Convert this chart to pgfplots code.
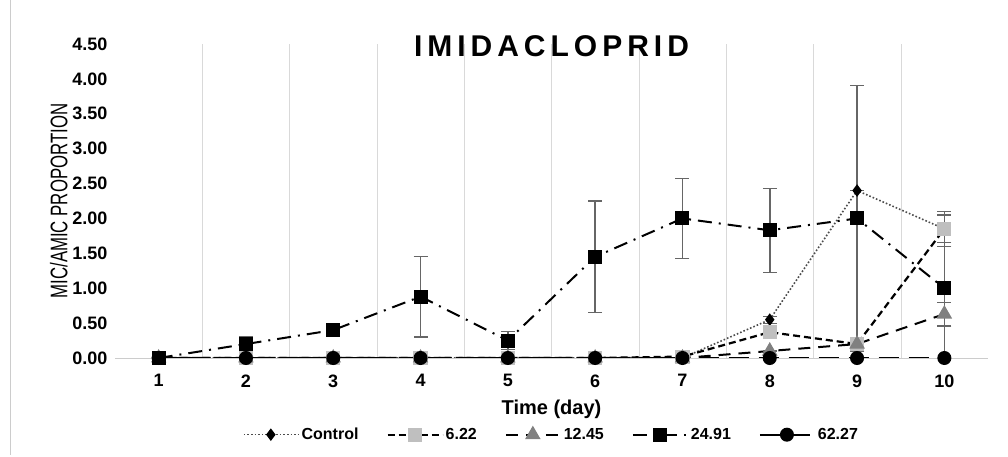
\documentclass[border=0pt]{standalone}
\usepackage{pgfplots}
\pgfplotsset{compat=1.18}
\usepackage{fontspec}
\setmainfont{Liberation Sans}
\begin{document}
\begin{tikzpicture}
\path[use as bounding box] (0pt,0pt) rectangle (1008pt,457pt);
\draw[gray!40] (10pt,2pt) -- (10pt,457pt);
\begin{axis}[at={(115pt,99pt)},anchor=south west,scale only axis,width=873pt,height=314pt,
 xmin=0.5,xmax=10.5,ymin=0,ymax=4.5,
 xtick={1,...,10}, minor xtick={1.5,2.5,...,9.5}, xminorgrids, minor grid style={gray!30},
 ytick={0,0.5,...,4.5},
 yticklabel style={xshift=-4pt,/pgf/number format/.cd,fixed,fixed zerofill,precision=2},
 /pgf/number format/assume math mode=true,
 ticklabel style={font=\fontsize{18}{20}\selectfont\bfseries},
 xticklabel style={yshift=-13pt},
 axis line style={draw=none}, major tick length=0, minor tick length=0,
 extra y ticks={0}, extra y tick labels={}, extra y tick style={grid=major,major grid style={gray!40}},
 xlabel={\fontsize{20}{22}\selectfont\bfseries Time (day)}, xlabel style={yshift=-6pt},
 ylabel={\scalebox{0.7}[1]{\fontsize{24}{26}\selectfont MIC/AMIC PROPORTION}}, ylabel style={yshift=-2pt},
 title={\fontsize{30}{32}\selectfont\bfseries I\,M\,I\,D\,A\,C\,L\,O\,P\,R\,I\,D}, title style={yshift=-22pt},
 legend style={at={(0.5,-0.21)},anchor=north,draw=none,legend columns=5,font=\fontsize{16}{18}\selectfont\bfseries,
   /tikz/every even column/.append style={column sep=26pt}},
 legend image code/.code={\draw[#1] (0pt,0pt) -- (55pt,0pt); \draw[#1,solid] plot coordinates {(27pt,0pt)};},
 error bars/error bar style={gray!80!black,line width=1.6pt,solid}, error bars/error mark options={rotate=90,mark size=7pt,gray!80!black,line width=1.2pt,solid},
]
\addplot[black!70,dotted,line width=1.6pt,mark=diamond*,mark size=5pt,mark options={solid,black},
 error bars/.cd,y dir=both,y explicit] coordinates {
(1,0)+-(0,0) (2,0)+-(0,0) (3,0)+-(0,0) (4,0)+-(0,0) (5,0)+-(0,0) (6,0)+-(0,0) (7,0)+-(0,0) (8,0.55)+-(0,0.05) (9,2.40)+-(0,0) (10,1.85)+-(0,0.25)};
\addlegendentry{Control}
\addplot[black,dash pattern=on 7pt off 4pt,line width=2.2pt,mark=square*,mark size=6pt,mark options={solid,fill=gray!50,draw=gray!50},
 error bars/.cd,y dir=both,y explicit] coordinates {
(1,0)+-(0,0) (2,0)+-(0,0) (3,0)+-(0,0) (4,0)+-(0,0) (5,0)+-(0,0) (6,0)+-(0,0) (7,0.02)+-(0,0) (8,0.37)+-(0,0) (9,0.20)+-(0,0) (10,1.85)+-(0,0.2)};
\addlegendentry{6.22}
\addplot[black,dash pattern=on 12pt off 8pt,line width=2pt,mark=triangle*,mark size=7pt,mark options={solid,fill=gray,draw=gray},
 error bars/.cd,y dir=both,y explicit] coordinates {
(1,0)+-(0,0) (2,0)+-(0,0) (3,0)+-(0,0) (4,0)+-(0,0) (5,0)+-(0,0) (6,0)+-(0,0) (7,0)+-(0,0) (8,0.10)+-(0,0) (9,0.20)+-(0,0) (10,0.63)+-(0,0.17)};
\addlegendentry{12.45}
\addplot[black,dash pattern=on 14pt off 7pt on 2pt off 7pt,line width=2pt,mark=square*,mark size=6pt,mark options={solid},
 error bars/.cd,y dir=both,y explicit] coordinates {
(1,0)+-(0,0) (2,0.20)+-(0,0.1) (3,0.40)+-(0,0) (4,0.88)+-(0,0.58) (5,0.25)+-(0,0.13) (6,1.45)+-(0,0.8) (7,2.0)+-(0,0.57) (8,1.83)+-(0,0.6) (9,2.0)+-(0,1.9) (10,1.0)+-(0,1.05)};
\addlegendentry{24.91}
\addplot[black,dash pattern=on 20pt off 10pt,line width=2pt,mark=*,mark size=6pt,mark options={solid}] coordinates {
(1,0) (2,0) (3,0) (4,0) (5,0) (6,0) (7,0) (8,0) (9,0) (10,0)};
\addlegendentry{62.27}
\end{axis}
\end{tikzpicture}
\end{document}
